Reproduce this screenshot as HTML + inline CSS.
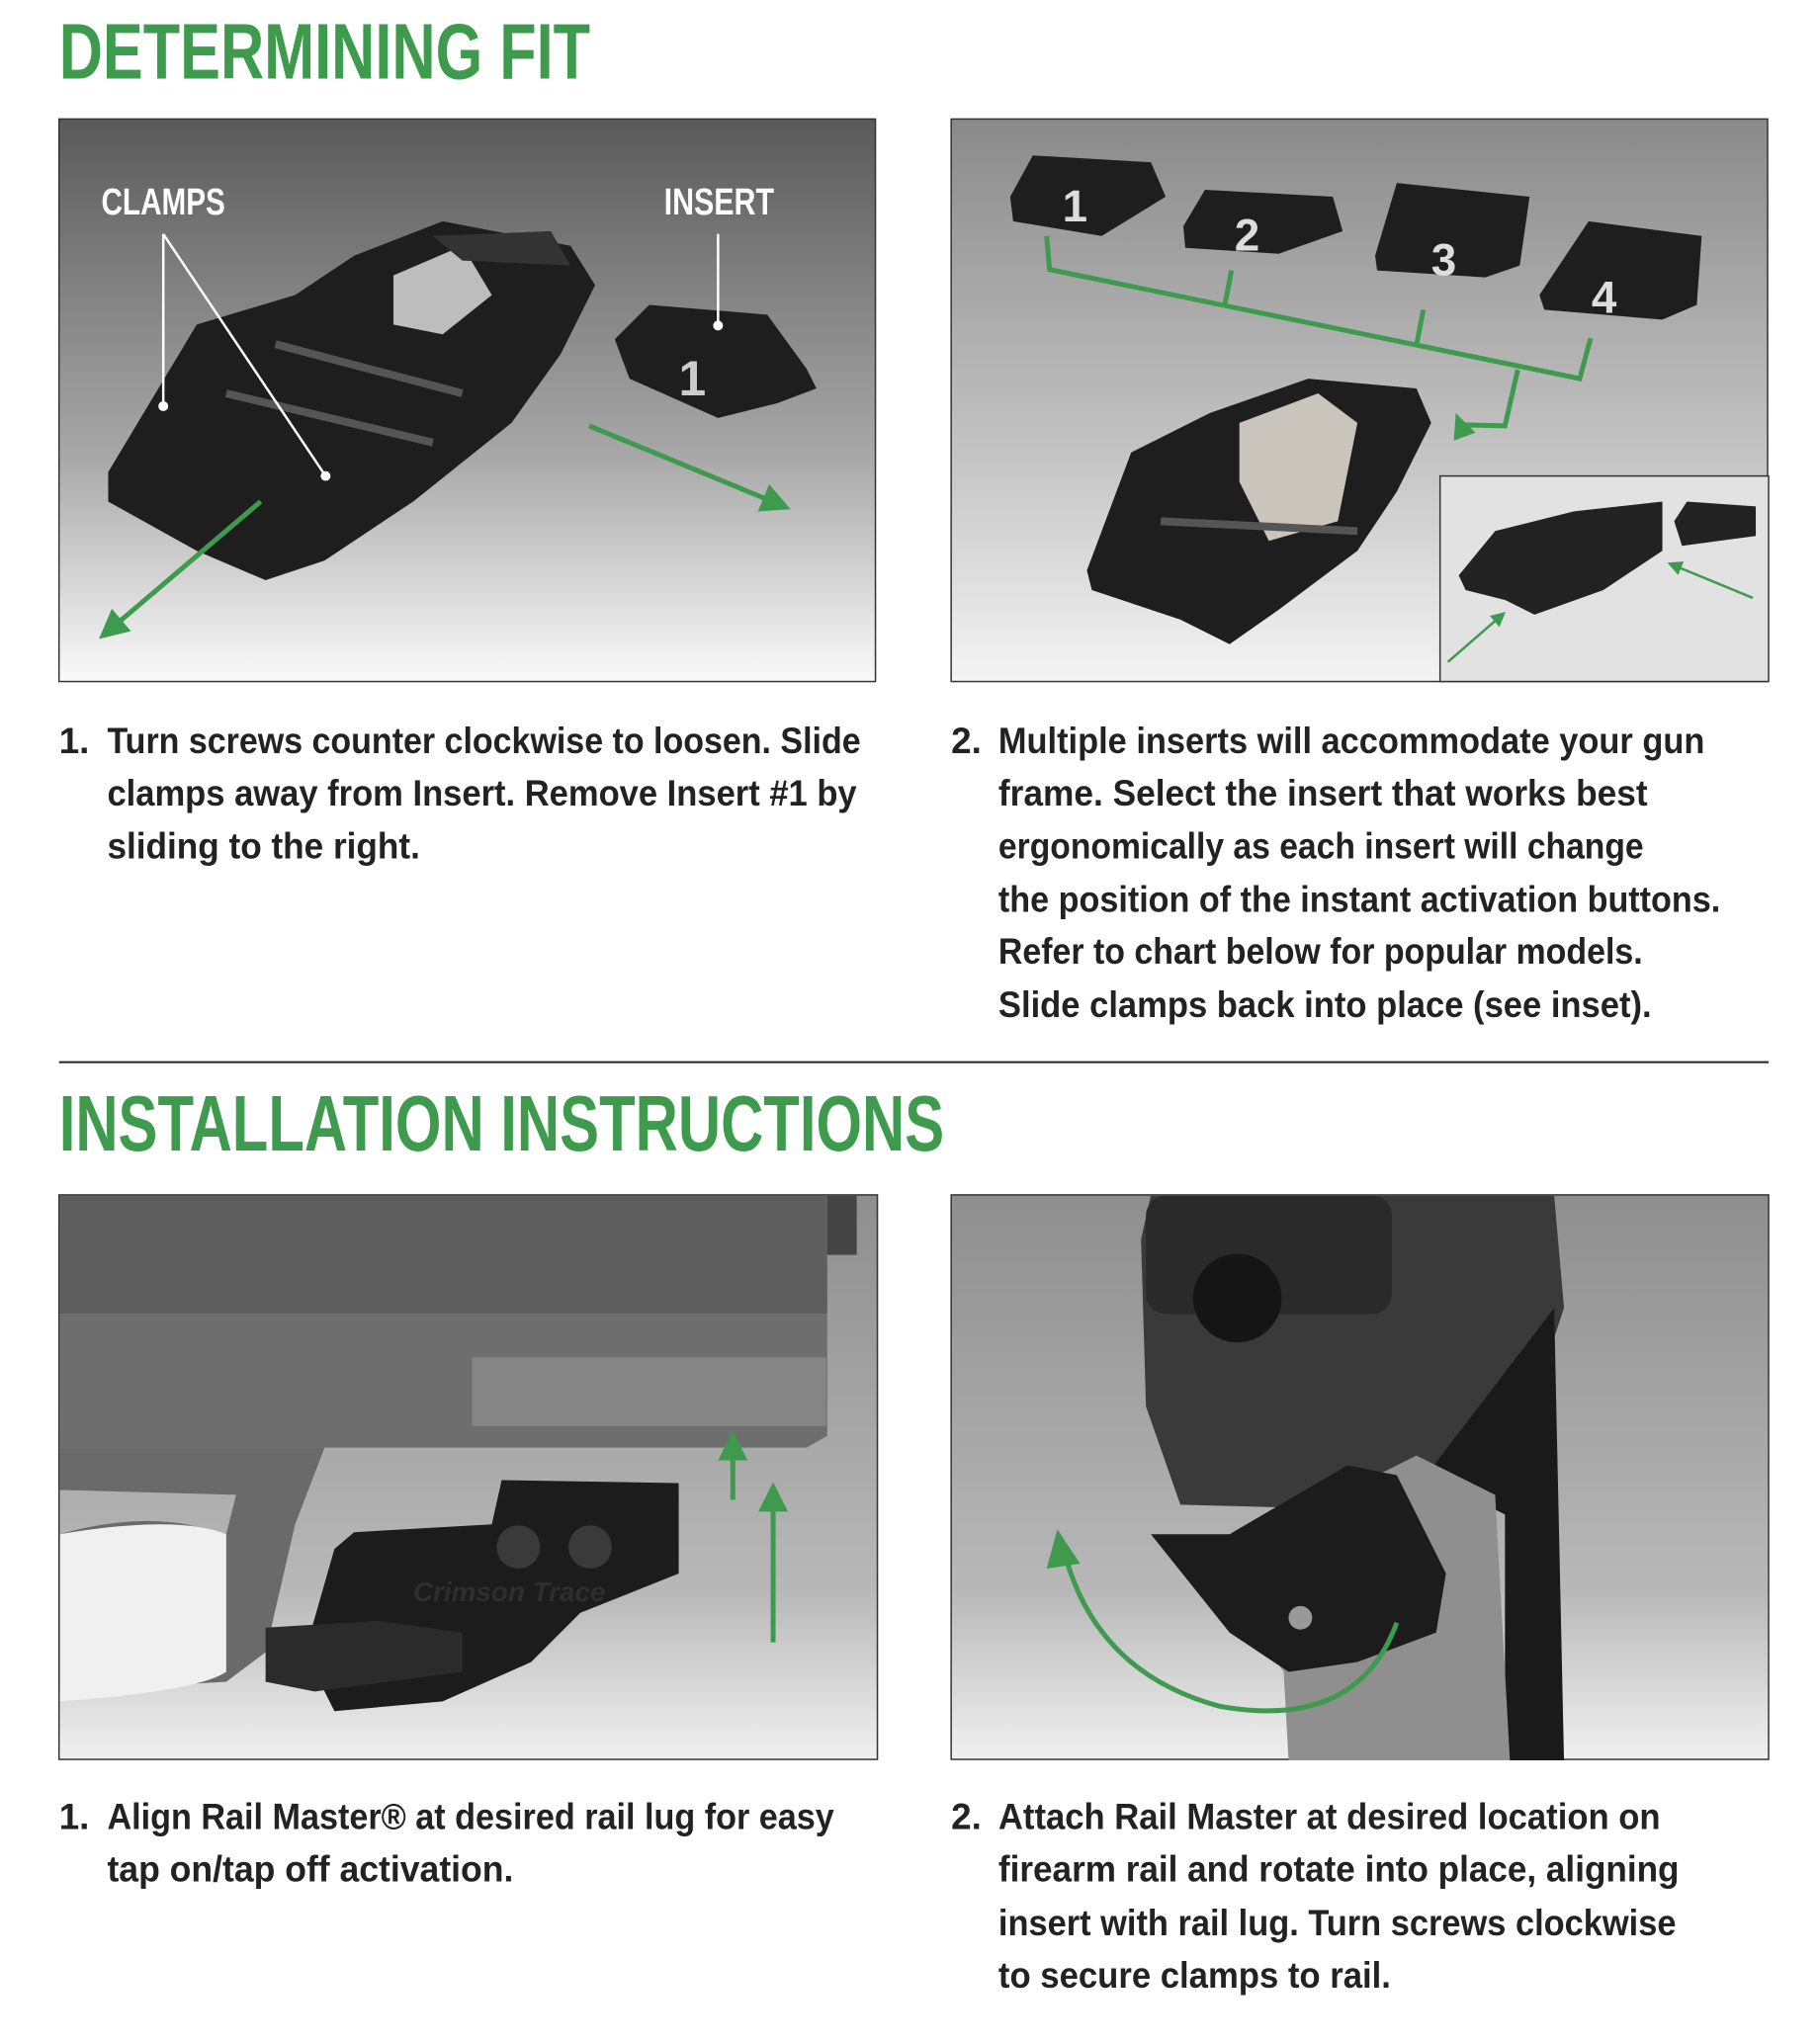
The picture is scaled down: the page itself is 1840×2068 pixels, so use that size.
<!DOCTYPE html>
<html><head><meta charset="utf-8"><style>
html,body{margin:0;padding:0;background:#fff}
svg{display:block}
text{font-family:"Liberation Sans Narrow","Liberation Sans",sans-serif;font-weight:bold}
.t{font-size:37px;fill:#222}
.h{font-size:80px;fill:#3e9a4c}
</style></head><body>
<svg width="1840" height="2068" viewBox="0 0 1840 2068" xmlns="http://www.w3.org/2000/svg">
<defs>
<linearGradient id="g1" x1="0" y1="0" x2="0" y2="1"><stop offset="0" stop-color="#5a5a5a"/><stop offset="0.6" stop-color="#a8a8a8"/><stop offset="1" stop-color="#fafafa"/></linearGradient>
<linearGradient id="g2" x1="0" y1="0" x2="0" y2="1"><stop offset="0" stop-color="#8a8a8a"/><stop offset="0.6" stop-color="#c4c4c4"/><stop offset="1" stop-color="#f4f4f4"/></linearGradient>
<linearGradient id="g3" x1="0" y1="0" x2="0" y2="1"><stop offset="0" stop-color="#8e8e8e"/><stop offset="0.7" stop-color="#b8b8b8"/><stop offset="1" stop-color="#f0f0f0"/></linearGradient>
<marker id="ah" markerWidth="6" markerHeight="6" refX="3" refY="3" orient="auto" markerUnits="strokeWidth"><path d="M0,0 L6,3 L0,6 z" fill="#3e9a4c"/></marker>
</defs>
<g transform="scale(0.995)">
<text class="h" x="60" y="80" textLength="540" lengthAdjust="spacingAndGlyphs">DETERMINING FIT</text>

<!-- Panel 1 -->
<rect x="60" y="121" width="830" height="572" fill="url(#g1)" stroke="#333" stroke-width="1.5"/>
<polygon points="110,480 200,330 300,300 360,260 450,225 580,250 605,290 570,360 520,430 420,510 330,570 270,590 200,560 110,510" fill="#1e1e1e"/>
<polygon points="400,280 470,250 500,300 450,340 400,330" fill="#bdbdbd"/>
<polygon points="440,240 560,235 580,270 470,265" fill="#333"/>
<line x1="230" y1="400" x2="440" y2="450" stroke="#555" stroke-width="8"/>
<line x1="280" y1="350" x2="470" y2="400" stroke="#555" stroke-width="8"/>
<polygon points="625,345 660,310 780,320 820,375 830,395 790,410 730,425 640,385" fill="#1e1e1e"/>
<text x="690" y="402" font-size="50" fill="#ccc" font-weight="normal">1</text>
<text x="103" y="218" font-size="38" fill="#fff" textLength="126" lengthAdjust="spacingAndGlyphs">CLAMPS</text>
<text x="675" y="218" font-size="38" fill="#fff" textLength="112" lengthAdjust="spacingAndGlyphs">INSERT</text>
<g stroke="#fff" stroke-width="2.5" fill="#fff"><line x1="166" y1="238" x2="166" y2="413"/><line x1="166" y1="238" x2="331" y2="484"/><line x1="730" y1="238" x2="730" y2="331"/></g>
<circle cx="166" cy="413" r="5" fill="#fff"/><circle cx="331" cy="484" r="5" fill="#fff"/><circle cx="730" cy="331" r="5" fill="#fff"/>
<line x1="599" y1="433" x2="790" y2="512" stroke="#3e9a4c" stroke-width="5" marker-end="url(#ah)"/>
<line x1="265" y1="510" x2="112" y2="640" stroke="#3e9a4c" stroke-width="5" marker-end="url(#ah)"/>

<!-- Panel 2 -->
<rect x="967" y="121" width="830" height="572" fill="url(#g2)" stroke="#333" stroke-width="1.5"/>
<polygon points="1027,200 1050,158 1170,165 1185,200 1120,240 1030,225" fill="#1e1e1e"/>
<polygon points="1203,230 1225,193 1355,200 1365,235 1300,258 1205,252" fill="#1e1e1e"/>
<polygon points="1398,260 1420,186 1555,200 1545,270 1510,282 1400,275" fill="#1e1e1e"/>
<polygon points="1565,300 1615,225 1730,240 1725,310 1690,325 1570,315" fill="#1e1e1e"/>
<g fill="#ddd" font-size="46" font-weight="normal"><text x="1080" y="225">1</text><text x="1255" y="255">2</text><text x="1455" y="280">3</text><text x="1618" y="318">4</text></g>
<g stroke="#3e9a4c" stroke-width="5" fill="none">
<polyline points="1064,240 1067,274 1606,385 1617,344"/>
<line x1="1245" y1="311" x2="1252" y2="275"/>
<line x1="1440" y1="351" x2="1447" y2="315"/>
<polyline points="1543,376 1530,433 1490,432"/>
</g>
<polygon points="1480,420 1500,440 1478,448" fill="#3e9a4c"/>
<polygon points="1105,580 1150,460 1230,420 1330,385 1440,395 1455,430 1420,500 1380,560 1300,620 1250,655 1200,630 1110,600" fill="#1e1e1e"/>
<polygon points="1260,430 1340,400 1380,430 1360,530 1290,550 1260,490" fill="#c9c5bc"/>
<line x1="1180" y1="530" x2="1380" y2="540" stroke="#555" stroke-width="8"/>
<rect x="1464" y="484" width="334" height="209" fill="#e2e2e2" stroke="#333" stroke-width="1.5"/>
<polygon points="1483,585 1520,540 1600,520 1690,510 1690,560 1630,600 1560,625 1530,610 1490,600" fill="#222"/>
<polygon points="1702,530 1715,510 1785,515 1785,545 1710,555" fill="#222"/>
<line x1="1472" y1="673" x2="1525" y2="627" stroke="#3e9a4c" stroke-width="2.5" marker-end="url(#ah)"/>
<line x1="1782" y1="608" x2="1702" y2="575" stroke="#3e9a4c" stroke-width="2.5" marker-end="url(#ah)"/>

<!-- text block 1 -->
<text class="t" x="60" y="766">1.</text>
<text class="t" x="109" y="766" textLength="766" lengthAdjust="spacingAndGlyphs">Turn screws counter clockwise to loosen. Slide</text>
<text class="t" x="109" y="819" textLength="762" lengthAdjust="spacingAndGlyphs">clamps away from Insert. Remove Insert #1 by</text>
<text class="t" x="109" y="873" textLength="318" lengthAdjust="spacingAndGlyphs">sliding to the right.</text>
<text class="t" x="967" y="766">2.</text>
<text class="t" x="1015" y="766" textLength="718" lengthAdjust="spacingAndGlyphs">Multiple inserts will accommodate your gun</text>
<text class="t" x="1015" y="819" textLength="660" lengthAdjust="spacingAndGlyphs">frame. Select the insert that works best</text>
<text class="t" x="1015" y="873" textLength="656" lengthAdjust="spacingAndGlyphs">ergonomically as each insert will change</text>
<text class="t" x="1015" y="927" textLength="734" lengthAdjust="spacingAndGlyphs">the position of the instant activation buttons.</text>
<text class="t" x="1015" y="980" textLength="655" lengthAdjust="spacingAndGlyphs">Refer to chart below for popular models.</text>
<text class="t" x="1015" y="1034" textLength="664" lengthAdjust="spacingAndGlyphs">Slide clamps back into place (see inset).</text>

<line x1="60" y1="1080" x2="1798" y2="1080" stroke="#222" stroke-width="2"/>
<text class="h" x="60" y="1170" textLength="900" lengthAdjust="spacingAndGlyphs">INSTALLATION INSTRUCTIONS</text>

<!-- Panel 3 -->
<rect x="60" y="1215" width="832" height="574" fill="url(#g3)" stroke="#333" stroke-width="1.5"/>
<rect x="61" y="1216" width="780" height="120" fill="#5e5e5e"/>
<polygon points="61,1336 841,1336 841,1460 820,1472 61,1472" fill="#6e6e6e"/>
<rect x="480" y="1380" width="360" height="70" fill="#858585"/>
<rect x="841" y="1216" width="30" height="60" fill="#444"/>
<path d="M61,1472 L330,1472 L300,1550 L270,1680 L230,1710 L61,1720 L61,1560 Q130,1540 190,1550 L230,1560 L240,1520 L61,1515 Z" fill="#6a6a6a"/>
<path d="M61,1560 Q180,1540 230,1560 L230,1700 Q200,1720 61,1730 Z" fill="#f0f0f0"/>
<polygon points="340,1575 360,1558 500,1550 510,1505 690,1508 690,1600 590,1640 540,1690 450,1730 340,1740 310,1680" fill="#1c1c1c"/>
<polygon points="270,1655 385,1648 470,1660 470,1700 320,1720 270,1710" fill="#2b2b2b"/>
<circle cx="527" cy="1573" r="22" fill="#3a3a3a"/><circle cx="600" cy="1573" r="22" fill="#3a3a3a"/>
<text x="420" y="1628" font-size="28" fill="#2e2e2e" font-style="italic" font-weight="normal">Crimson Trace</text>
<line x1="745" y1="1525" x2="745" y2="1470" stroke="#3e9a4c" stroke-width="5" marker-end="url(#ah)"/>
<line x1="786" y1="1670" x2="786" y2="1522" stroke="#3e9a4c" stroke-width="5" marker-end="url(#ah)"/>

<!-- Panel 4 -->
<rect x="967" y="1215" width="831" height="574" fill="url(#g3)" stroke="#333" stroke-width="1.5"/>
<polygon points="1170,1216 1580,1216 1590,1330 1560,1420 1490,1470 1440,1500 1390,1535 1200,1530 1165,1430 1160,1260" fill="#3a3a3a"/>
<rect x="1165" y="1216" width="250" height="120" fill="#2a2a2a" rx="20"/>
<circle cx="1258" cy="1320" r="45" fill="#151515"/>
<polygon points="1580,1330 1590,1790 1530,1790 1530,1540 1450,1500" fill="#1a1a1a"/>
<polygon points="1400,1500 1440,1480 1520,1520 1535,1790 1310,1790 1305,1700 1270,1650" fill="#8f8f8f"/>
<polygon points="1170,1560 1250,1560 1370,1490 1420,1500 1470,1600 1460,1660 1380,1690 1310,1700 1250,1660" fill="#1c1c1c"/>
<circle cx="1322" cy="1645" r="12" fill="#999"/>
<path d="M1420,1650 Q1380,1760 1240,1735 Q1110,1700 1080,1570" fill="none" stroke="#3e9a4c" stroke-width="5"/>
<polygon points="1064,1595 1075,1555 1098,1590" fill="#3e9a4c"/>

<!-- text block 2 -->
<text class="t" x="60" y="1860">1.</text>
<text class="t" x="109" y="1860" textLength="739" lengthAdjust="spacingAndGlyphs">Align Rail Master® at desired rail lug for easy</text>
<text class="t" x="109" y="1913" textLength="413" lengthAdjust="spacingAndGlyphs">tap on/tap off activation.</text>
<text class="t" x="967" y="1860">2.</text>
<text class="t" x="1015" y="1860" textLength="673" lengthAdjust="spacingAndGlyphs">Attach Rail Master at desired location on</text>
<text class="t" x="1015" y="1913" textLength="692" lengthAdjust="spacingAndGlyphs">firearm rail and rotate into place, aligning</text>
<text class="t" x="1015" y="1968" textLength="689" lengthAdjust="spacingAndGlyphs">insert with rail lug. Turn screws clockwise</text>
<text class="t" x="1015" y="2021" textLength="399" lengthAdjust="spacingAndGlyphs">to secure clamps to rail.</text>
</g>
</svg>
</body></html>
